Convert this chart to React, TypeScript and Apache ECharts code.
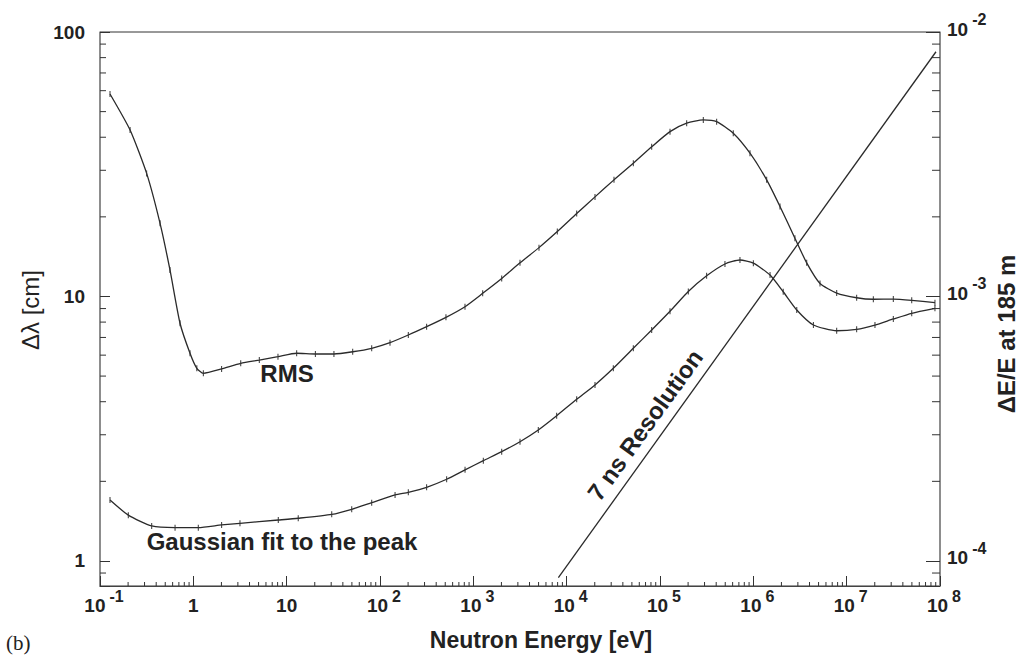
import React, { useEffect, useRef } from "react";
import * as echarts from "echarts";

// Neutron energy [eV] and width [cm]
const energyRMS = [0.128, 0.21, 0.316, 0.44, 0.562, 0.72, 0.921, 1.09, 1.28, 2.01, 3.22, 5.09, 8.07, 12.8, 20.3, 32.1, 51.0, 81.5, 128, 201, 316, 509, 814, 1260, 2014, 3162, 5052, 7936, 12810, 20120, 32140, 51760, 81470, 128000, 193200, 291000, 404700, 609500, 920500, 1.39e6, 1.93e6, 2.79e6, 3.73e6, 5.18e6, 7.82e6, 1.28e7, 1.93e7, 3.16e7, 4.98e7, 8.83e7];
const rmsWidth = [58.3, 42.6, 29.2, 18.9, 12.6, 7.92, 6.1, 5.35, 5.12, 5.32, 5.59, 5.75, 5.92, 6.1, 6.06, 6.06, 6.18, 6.37, 6.69, 7.15, 7.69, 8.34, 9.15, 10.28, 11.7, 13.4, 15.3, 17.6, 20.6, 23.8, 27.6, 31.9, 36.8, 42.0, 45.2, 46.5, 45.8, 41.4, 34.8, 27.6, 21.9, 16.6, 13.4, 11.2, 10.3, 9.89, 9.76, 9.78, 9.67, 9.47];

const energyGauss = [0.128, 0.201, 0.358, 0.637, 1.13, 2.01, 3.16, 8.13, 13.3, 30.4, 49.8, 81.5, 145, 201, 316, 518, 815, 1279, 2014, 3162, 4966, 7816, 12810, 20120, 31600, 51760, 81470, 128000, 201000, 316000, 496600, 719000, 1.0e6, 1.51e6, 2.09e6, 2.92e6, 4.4e6, 7.82e6, 1.28e7, 2.01e7, 3.16e7, 4.98e7, 8.83e7];
const gaussWidth = [1.7, 1.49, 1.356, 1.336, 1.336, 1.368, 1.388, 1.428, 1.45, 1.5, 1.568, 1.661, 1.776, 1.818, 1.899, 2.036, 2.21, 2.394, 2.589, 2.824, 3.128, 3.542, 4.086, 4.63, 5.35, 6.37, 7.47, 8.79, 10.44, 11.97, 13.27, 13.74, 13.36, 12.05, 10.42, 8.89, 7.8, 7.42, 7.51, 7.8, 8.22, 8.64, 9.02];

// 7 ns resolution, dE/E at 185 m (right axis)
const energyRes = [8150, 9.06e7];
const resolution = [8.65e-5, 8.42e-3];

// axis ranges
const xMin = 0.1;
const xMax = 1e8;
const yMin = 0.804;
const yMax = 100;
const y2Min = 0.804e-4;
const y2Max = 1e-2;

const pairs = (xs: number[], ys: number[]) => xs.map((x, i) => [x, ys[i]]);

// minor tick values (2..9 of every decade)
const minorX: number[] = [];
for (let k = -1; k <= 7; k++) for (let m = 2; m <= 9; m++) minorX.push(m * Math.pow(10, k));
const minorY: number[] = [0.9];
for (let k = 0; k <= 1; k++) for (let m = 2; m <= 9; m++) minorY.push(m * Math.pow(10, k));

const FONT = "'Liberation Sans', Arial, Helvetica, sans-serif";
const INK = "#222";

const isDecade = (v: number) => {
  const l = Math.log10(v);
  return Math.abs(l - Math.round(l)) < 1e-6;
};

// base token and exponent token have equal total heights (27px) so the
// exponent sits ~10px above the base regardless of vertical alignment
const richLabels = {
  b: { fontFamily: FONT, fontSize: 19, fontWeight: "bold", color: INK, lineHeight: 19, padding: [8, 0, 0, 0] },
  p: { fontFamily: FONT, fontSize: 19, fontWeight: "bold", color: INK, lineHeight: 19, padding: [8, 0, 0, 8] },
  s: { fontFamily: FONT, fontSize: 16, fontWeight: "bold", color: INK, lineHeight: 16, padding: [0, 0, 11, 4] },
};

export default function App() {
  const ref = useRef<HTMLDivElement>(null);

  useEffect(() => {
    if (!ref.current) return;
    const chart = echarts.init(ref.current, undefined, { renderer: "svg" });

    const option: any = {
      animation: false,
      backgroundColor: "#ffffff",
      grid: {
        left: 100,
        top: 32,
        width: 840,
        height: 554,
        show: true,
        borderColor: "#333",
        borderWidth: 1,
        containLabel: false,
        outerBoundsMode: "none",
      },
      xAxis: {
        type: "log",
        logBase: 10,
        min: xMin,
        max: xMax,
        axisLine: { show: true, lineStyle: { color: "#444", width: 1 } },
        axisTick: { show: true, inside: true, length: 10, lineStyle: { color: "#333" } },
        splitLine: { show: false },
        minorTick: { show: false },
        axisLabel: {
          margin: 6,
          formatter: (v: number) => {
            if (!isDecade(v)) return "";
            const e = Math.round(Math.log10(v));
            if (e === 0) return "{b|1}";
            if (e === 1) return "{b|10}";
            return `{p|10}{s|${e}}`;
          },
          rich: richLabels,
        },
      },
      yAxis: [
        {
          type: "log",
          logBase: 10,
          min: yMin,
          max: yMax,
          position: "left",
          axisLine: { show: true, lineStyle: { color: "#8a8a8a", width: 1.5 } },
          axisTick: { show: true, inside: true, length: 10, lineStyle: { color: "#333" } },
          splitLine: { show: false },
          axisLabel: {
            margin: 15,
            fontFamily: FONT,
            fontSize: 19,
            fontWeight: "bold",
            color: INK,
            formatter: (v: number) => (isDecade(v) ? String(Math.round(v)) : ""),
          },
        },
        {
          type: "log",
          logBase: 10,
          min: y2Min,
          max: y2Max,
          position: "right",
          axisLine: { show: true, lineStyle: { color: "#8a8a8a", width: 1.5 } },
          axisTick: { show: true, inside: true, length: 14, lineStyle: { color: "#333" } },
          splitLine: { show: false },
          axisLabel: {
            margin: 7,
            padding: [0, 0, 14, 0],
            formatter: (v: number) => {
              if (!isDecade(v)) return "";
              const e = Math.round(Math.log10(v));
              return `{b|10}{s|${e}}`;
            },
            rich: richLabels,
          },
        },
      ],
      series: [
        {
          name: "RMS",
          type: "line",
          data: pairs(energyRMS, rmsWidth),
          yAxisIndex: 0,
          symbol: "rect",
          symbolSize: [1, 6],
          showSymbol: true,
          itemStyle: { color: "#333" },
          lineStyle: { color: "#2a2a2a", width: 1.3 },
          smooth: 0.2,
        },
        {
          name: "Gaussian fit to the peak",
          type: "line",
          data: pairs(energyGauss, gaussWidth),
          yAxisIndex: 0,
          symbol: "rect",
          symbolSize: [1, 6],
          showSymbol: true,
          itemStyle: { color: "#333" },
          lineStyle: { color: "#2a2a2a", width: 1.3 },
          smooth: 0.2,
        },
        {
          name: "7 ns Resolution",
          type: "line",
          data: pairs(energyRes, resolution),
          yAxisIndex: 1,
          symbol: "none",
          lineStyle: { color: "#2a2a2a", width: 1.3 },
        },
        {
          name: "x minor ticks",
          type: "custom",
          data: minorX.map((v) => [v, 1]),
          yAxisIndex: 0,
          silent: true,
          clip: false,
          renderItem: (params: any, api: any) => {
            const cs = params.coordSys;
            const x = api.coord([api.value(0), 1])[0];
            const yb = cs.y + cs.height;
            return {
              type: "line",
              shape: { x1: x, y1: yb, x2: x, y2: yb - 4 },
              style: { stroke: "#333", lineWidth: 1 },
            };
          },
        },
        {
          name: "y minor ticks",
          type: "custom",
          data: minorY.map((v) => [1, v]),
          yAxisIndex: 0,
          silent: true,
          clip: false,
          renderItem: (params: any, api: any) => {
            const cs = params.coordSys;
            const y = api.coord([1, api.value(1)])[1];
            const xl = cs.x;
            const xr = cs.x + cs.width;
            return {
              type: "group",
              children: [
                { type: "line", shape: { x1: xl, y1: y, x2: xl + 6, y2: y }, style: { stroke: "#333", lineWidth: 1 } },
                { type: "line", shape: { x1: xr, y1: y, x2: xr - 8, y2: y }, style: { stroke: "#333", lineWidth: 1 } },
              ],
            };
          },
        },
      ],
      graphic: [
        {
          type: "text",
          x: 30,
          y: 310,
          rotation: Math.PI / 2,
          style: { text: "Δλ [cm]", font: `normal 24px ${FONT}`, fill: INK, align: "center", verticalAlign: "middle", textAlign: "center", textVerticalAlign: "middle" },
        },
        {
          type: "text",
          x: 1006,
          y: 334,
          rotation: Math.PI / 2,
          style: { text: "ΔE/E at 185 m", font: `bold 24px ${FONT}`, fill: INK, align: "center", verticalAlign: "middle", textAlign: "center", textVerticalAlign: "middle" },
        },
        {
          type: "text",
          x: 541,
          y: 640,
          style: { text: "Neutron Energy [eV]", font: `bold 23px ${FONT}`, fill: INK, align: "center", verticalAlign: "middle", textAlign: "center", textVerticalAlign: "middle" },
        },
        {
          type: "text",
          x: 6,
          y: 643,
          style: { text: "(b)", font: `normal 21px 'Liberation Serif', 'DejaVu Serif', serif`, fill: INK, align: "left", verticalAlign: "middle", textAlign: "left", textVerticalAlign: "middle" },
        },
        {
          type: "text",
          x: 287,
          y: 373,
          style: { text: "RMS", font: `bold 24px ${FONT}`, fill: INK, align: "center", verticalAlign: "middle", textAlign: "center", textVerticalAlign: "middle" },
        },
        {
          type: "text",
          x: 282,
          y: 541,
          style: { text: "Gaussian fit to the peak", font: `bold 24px ${FONT}`, fill: INK, align: "center", verticalAlign: "middle", textAlign: "center", textVerticalAlign: "middle" },
        },
        {
          type: "text",
          x: 645,
          y: 425,
          rotation: (54.3 * Math.PI) / 180,
          style: { text: "7 ns Resolution", font: `bold 24px ${FONT}`, fill: INK, align: "center", verticalAlign: "middle", textAlign: "center", textVerticalAlign: "middle" },
        },
      ],
    };

    chart.setOption(option);
    return () => chart.dispose();
  }, []);

  return (
    <div
      ref={ref}
      style={{ position: "fixed", left: 0, top: 0, width: 1021, height: 658, background: "#fff" }}
    />
  );
}
